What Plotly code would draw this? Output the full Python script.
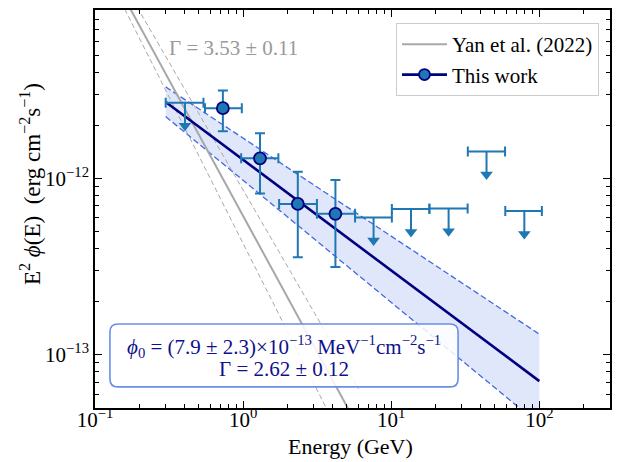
import numpy as np
import plotly.graph_objects as go

# ---------------- data ----------------
# "This work" flux points (GeV, erg cm^-2 s^-1)
pt_E = [0.73, 1.30, 2.34, 4.2]
pt_F = [2.5e-12, 1.30e-12, 7.17e-13, 6.3e-13]
pt_F_hi = [3.15e-12, 1.80e-12, 1.09e-12, 9.8e-13]
pt_F_lo = [1.85e-12, 8.2e-13, 3.57e-13, 3.15e-13]
pt_E_lo = [0.553, 0.97, 1.75, 3.15]
pt_E_hi = [0.98, 1.73, 3.15, 5.7]

# upper limits
ul_E = [0.405, 7.6, 13.6, 24.4, 44.0, 79.2]
ul_F = [2.68e-12, 6.0e-13, 6.7e-13, 6.76e-13, 1.42e-12, 6.53e-13]
ul_E_lo = [0.30, 5.7, 10.1, 18.1, 32.9, 58.9]
ul_E_hi = [0.54, 10.1, 18.1, 32.8, 58.7, 104.0]

# best-fit power law of this work and its band
fit_E = [0.3, 100.0]
fit_F = [2.71e-12, 7.1e-14]
band_up_F = [3.3e-12, 1.31e-13]
band_lo_F = [2.24e-12, 4.04e-14]

# Yan et al. (2022) model and its bounds
yan_E = [0.15, 6.0]
yan_F = [1.14e-11, 3.88e-14]
yan_lo_F = [1.0e-11, 2.18e-14]
yan_up_F = [1.34e-11, 6.43e-14]

x_ticks = [0.1, 1, 10, 100]
x_ticktext = ["10<sup>−1</sup>", "10<sup>0</sup>", "10<sup>1</sup>", "10<sup>2</sup>"]
y_ticks = [1e-13, 1e-12]
y_ticktext = ["10<sup>−13</sup>", "10<sup>−12</sup>"]

# ---------------- styling ----------------
FONT = "Liberation Serif"
FS = 21
C0 = "#1f77b4"
NAVY = "#000080"
ROYAL = "#4169e1"
GRAY = "#a8a8a8"

fig = go.Figure()

# band
fig.add_trace(go.Scatter(
    x=fit_E + fit_E[::-1], y=band_up_F + band_lo_F[::-1],
    fill="toself", fillcolor="rgba(65,105,225,0.16)", line=dict(width=0),
    mode="lines", showlegend=False, hoverinfo="skip"))
fig.add_trace(go.Scatter(x=fit_E, y=band_up_F, mode="lines",
                         line=dict(color=ROYAL, width=1.3, dash="6px,3px"), showlegend=False))
fig.add_trace(go.Scatter(x=fit_E, y=band_lo_F, mode="lines",
                         line=dict(color=ROYAL, width=1.3, dash="6px,3px"), showlegend=False))

# Yan et al. lines
fig.add_trace(go.Scatter(x=yan_E, y=yan_lo_F, mode="lines",
                         line=dict(color=GRAY, width=1, dash="5px,3px"), showlegend=False))
fig.add_trace(go.Scatter(x=yan_E, y=yan_up_F, mode="lines",
                         line=dict(color=GRAY, width=1, dash="5px,3px"), showlegend=False))
fig.add_trace(go.Scatter(x=yan_E, y=yan_F, mode="lines",
                         line=dict(color=GRAY, width=2), name="Yan et al. (2022)"))

# fit line
fig.add_trace(go.Scatter(x=fit_E, y=fit_F, mode="lines",
                         line=dict(color=NAVY, width=2.6), showlegend=False))

# upper limits: horizontal bars with caps
fig.add_trace(go.Scatter(
    x=ul_E, y=ul_F, mode="markers", marker=dict(size=1, opacity=0),
    error_x=dict(type="data", symmetric=False,
                 array=[h - e for h, e in zip(ul_E_hi, ul_E)],
                 arrayminus=[e - l for e, l in zip(ul_E, ul_E_lo)],
                 color=C0, thickness=2, width=5),
    showlegend=False, hoverinfo="skip"))
# arrows
stem_x, stem_y = [], []
for e, f in zip(ul_E, ul_F):
    stem_x += [e, e, None]
    stem_y += [f, f * 0.75, None]
fig.add_trace(go.Scatter(x=stem_x, y=stem_y, mode="lines",
                         line=dict(color=C0, width=2), showlegend=False, hoverinfo="skip"))
fig.add_trace(go.Scatter(x=ul_E, y=[f * 0.742 for f in ul_F], mode="markers",
                         marker=dict(symbol="triangle-down", size=11, color=C0, line=dict(width=0)),
                         showlegend=False, hoverinfo="skip"))

# data points
fig.add_trace(go.Scatter(
    x=pt_E, y=pt_F, mode="markers",
    marker=dict(size=12, color=C0, line=dict(color=NAVY, width=1.8)),
    error_x=dict(type="data", symmetric=False,
                 array=[h - e for h, e in zip(pt_E_hi, pt_E)],
                 arrayminus=[e - l for e, l in zip(pt_E, pt_E_lo)],
                 color=C0, thickness=2, width=5),
    error_y=dict(type="data", symmetric=False,
                 array=[h - f for h, f in zip(pt_F_hi, pt_F)],
                 arrayminus=[f - l for f, l in zip(pt_F, pt_F_lo)],
                 color=C0, thickness=2, width=5),
    showlegend=False))

# legend entry for "This work"
fig.add_trace(go.Scatter(x=[None], y=[None], mode="lines+markers", name="This work",
                         line=dict(color=NAVY, width=2.6),
                         marker=dict(size=11, color=C0, line=dict(color=NAVY, width=1.8))))

minor_x = [m * 10.0 ** k for k in range(-1, 3) for m in range(2, 10) if m * 10.0 ** k <= 300]
minor_y = [m * 10.0 ** k for k in range(-14, -11) for m in range(2, 10)
           if 5e-14 <= m * 10.0 ** k <= 9e-12]

axis_common = dict(showline=True, linecolor="black", linewidth=1.6, mirror="ticks",
                   ticks="inside", ticklen=7, tickwidth=1.2, tickcolor="black",
                   showgrid=False, zeroline=False, automargin=False,
                   tickfont=dict(family=FONT, size=FS, color="black"))

fig.update_layout(
    width=617, height=462,
    margin=dict(l=95, r=7, t=10, b=54),
    paper_bgcolor="white", plot_bgcolor="white",
    font=dict(family=FONT, size=FS, color="black"),
    xaxis=dict(type="log", range=[np.log10(0.1), np.log10(300)],
               tickmode="array", tickvals=x_ticks, ticktext=x_ticktext,
               ticklabelstandoff=-8,
               minor=dict(tickmode="array", tickvals=minor_x, ticks="inside",
                          ticklen=4, tickwidth=1, tickcolor="black"),
               **axis_common),
    yaxis=dict(type="log", range=[np.log10(5e-14), np.log10(9e-12)],
               tickmode="array", tickvals=y_ticks, ticktext=y_ticktext,
               minor=dict(tickmode="array", tickvals=minor_y, ticks="inside",
                          ticklen=4, tickwidth=1, tickcolor="black"),
               **axis_common),
    legend=dict(x=0.9786, y=0.967, xanchor="right", yanchor="top",
                bgcolor="white", bordercolor="#cccccc", borderwidth=1,
                font=dict(family=FONT, size=FS), itemwidth=45, tracegroupgap=2),
    showlegend=True,
)

# axis titles
fig.add_annotation(xref="paper", yref="paper", x=(350 - 95) / 515, y=(408 - 446) / 398,
                   text="Energy (GeV)", showarrow=False, xanchor="center", yanchor="middle",
                   font=dict(family=FONT, size=22, color="black"))
fig.add_annotation(xref="paper", yref="paper", x=(30 - 95) / 515, y=(408 - 184) / 398,
                   text="E<sup>2</sup> <i>ϕ</i>(E)  (erg cm<sup>−2</sup>s<sup>−1</sup>)",
                   textangle=-90, showarrow=False, xanchor="center", yanchor="middle",
                   font=dict(family=FONT, size=23, color="black"))

# rounded text box for the fit parameters
x0, x1, y0, y1 = 0.029, 0.705, 0.053, 0.211
rx, ry = 8 / 515, 8 / 398
path = (f"M {x0+rx},{y0} L {x1-rx},{y0} Q {x1},{y0} {x1},{y0+ry} L {x1},{y1-ry} "
        f"Q {x1},{y1} {x1-rx},{y1} L {x0+rx},{y1} Q {x0},{y1} {x0},{y1-ry} "
        f"L {x0},{y0+ry} Q {x0},{y0} {x0+rx},{y0} Z")
fig.add_shape(type="path", path=path, xref="paper", yref="paper",
              line=dict(color="#6a8ee8", width=1.6), fillcolor="rgba(255,255,255,0.85)")

fig.add_annotation(xref="paper", yref="paper", x=0.367, y=(408 - 346) / 398,
                   text="<i>ϕ</i><sub>0</sub> = (7.9 ± 2.3)×10<sup>−13</sup> MeV<sup>−1</sup>cm<sup>−2</sup>s<sup>−1</sup>",
                   showarrow=False, xanchor="center", yanchor="middle",
                   font=dict(family=FONT, size=FS, color="#10108c"))
fig.add_annotation(xref="paper", yref="paper", x=0.367, y=(408 - 369) / 398,
                   text="Γ = 2.62 ± 0.12",
                   showarrow=False, xanchor="center", yanchor="middle",
                   font=dict(family=FONT, size=FS, color="#10108c"))
fig.add_annotation(xref="paper", yref="paper", x=(167 - 95) / 515, y=(408 - 48) / 398,
                   text="Γ = 3.53 ± 0.11", showarrow=False, xanchor="left", yanchor="middle",
                   font=dict(family=FONT, size=FS, color="#999999"))

fig.write_html("out.html", config={"displayModeBar": False},
               post_script="document.body.style.margin='0';")
